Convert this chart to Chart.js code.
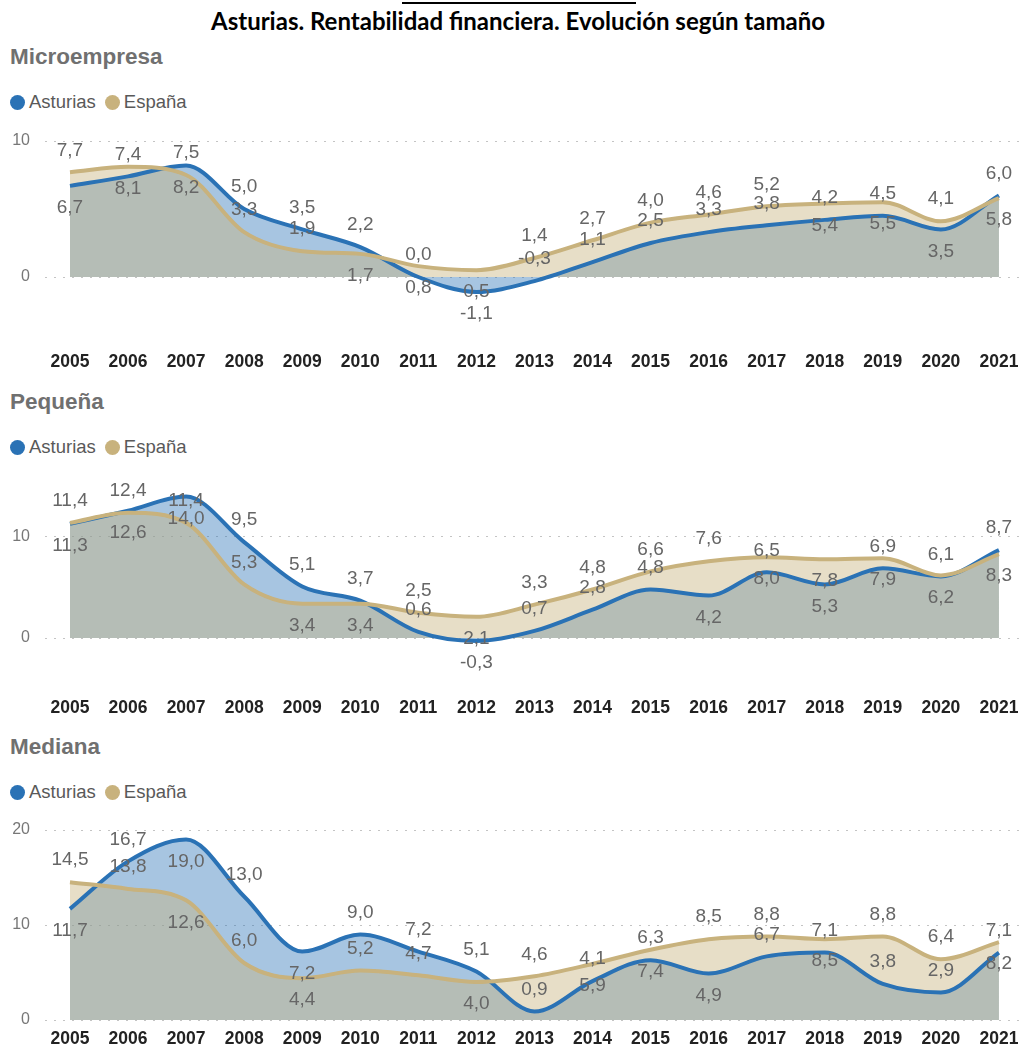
<!DOCTYPE html>
<html>
<head>
<meta charset="utf-8">
<script src="https://cdn.jsdelivr.net/npm/chart.js@4.4.1/dist/chart.umd.min.js"></script>
<style>
html,body{margin:0;padding:0;background:#fff;}
#page{position:relative;width:1026px;height:1048px;overflow:hidden;font-family:"Liberation Sans",Arial,sans-serif;}
.topline{position:absolute;left:402px;top:2px;width:234px;height:2px;background:#000;}
.main-title{position:absolute;left:5px;top:6px;width:1026px;height:30px;line-height:30px;text-align:center;font-family:Lato,"Open Sans",sans-serif;font-weight:700;font-size:24px;color:#000;white-space:nowrap;}
.ptitle{position:absolute;left:10px;height:30px;line-height:30px;font-weight:700;font-size:22.5px;color:#707070;white-space:nowrap;}
.legend{position:absolute;left:10px;height:20px;line-height:20px;font-size:18.5px;color:#595959;display:flex;align-items:center;white-space:nowrap;}
.legend .item{display:flex;align-items:center;margin-right:9px;}
.legend .dot{width:15px;height:15px;border-radius:50%;display:inline-block;margin-right:4px;}
canvas{position:absolute;left:0;}
</style>
</head>
<body>
<div id="page">
  <div class="topline"></div>
  <div class="main-title">Asturias. Rentabilidad financiera. Evolución según tamaño</div>

  <div class="ptitle" style="top:42px">Microempresa</div>
  <div class="legend" style="top:92px"><span class="item"><span class="dot" style="background:#2a72b5"></span>Asturias</span><span class="item"><span class="dot" style="background:#c8b27d"></span>España</span></div>
  <canvas id="c1" width="1026" height="266" style="top:109px"></canvas>

  <div class="ptitle" style="top:387px">Pequeña</div>
  <div class="legend" style="top:437px"><span class="item"><span class="dot" style="background:#2a72b5"></span>Asturias</span><span class="item"><span class="dot" style="background:#c8b27d"></span>España</span></div>
  <canvas id="c2" width="1026" height="266" style="top:454px"></canvas>

  <div class="ptitle" style="top:732px">Mediana</div>
  <div class="legend" style="top:782px"><span class="item"><span class="dot" style="background:#2a72b5"></span>Asturias</span><span class="item"><span class="dot" style="background:#c8b27d"></span>España</span></div>
  <canvas id="c3" width="1026" height="249" style="top:799px"></canvas>
</div>

<script>
// ---------- DATA ----------
const years = [2005, 2006, 2007, 2008, 2009, 2010, 2011, 2012, 2013, 2014, 2015, 2016, 2017, 2018, 2019, 2020, 2021];

const microAsturias = [6.7, 7.4, 8.2, 5.0, 3.5, 2.2, 0.0, -1.1, -0.3, 1.1, 2.5, 3.3, 3.8, 4.2, 4.5, 3.5, 6.0];
const microEspana   = [7.7, 8.1, 7.5, 3.3, 1.9, 1.7, 0.8, 0.5, 1.4, 2.7, 4.0, 4.6, 5.2, 5.4, 5.5, 4.1, 5.8];

const pequenaAsturias = [11.3, 12.6, 14.0, 9.5, 5.1, 3.7, 0.6, -0.3, 0.7, 2.8, 4.8, 4.2, 6.5, 5.3, 6.9, 6.1, 8.7];
const pequenaEspana   = [11.4, 12.4, 11.4, 5.3, 3.4, 3.4, 2.5, 2.1, 3.3, 4.8, 6.6, 7.6, 8.0, 7.8, 7.9, 6.2, 8.3];

const medianaAsturias = [11.7, 16.7, 19.0, 13.0, 7.2, 9.0, 7.2, 5.1, 0.9, 4.1, 6.3, 4.9, 6.7, 7.1, 3.8, 2.9, 7.1];
const medianaEspana   = [14.5, 13.8, 12.6, 6.0, 4.4, 5.2, 4.7, 4.0, 4.6, 5.9, 7.4, 8.5, 8.8, 8.5, 8.8, 6.4, 8.2];

const yTicksMicro   = [0, 10];
const yTicksPequena = [0, 10];
const yTicksMediana = [0, 10, 20];

const seriesNames = ['Asturias', 'España'];

// ---------- STYLE (label placement: t = above point, b = below point) ----------
const microAsturiasSide   = 'btbttttbtttttttbt';
const microEspanaSide     = 'tbtttbbbtttttbbtb';
const pequenaAsturiasSide = 'bbbttttbtttbtbttt';
const pequenaEspanaSide   = 'ttttbbtbttttbbbbb';
const medianaAsturiasSide = 'btbtbttttttbttttt';
const medianaEspanaSide   = 'ttbtbttbtbbttbttb';

const BLUE = '#2a72b5', BLUE_FILL = 'rgba(42,114,181,0.41)';
const TAN = '#c8b27d',  TAN_FILL  = 'rgba(200,178,125,0.43)';
const FONT = '"Liberation Sans", Arial, sans-serif';

const fmt = v => v.toFixed(1).replace('.', ',');

const valueLabels = {
  id: 'valueLabels',
  afterDatasetsDraw(chart) {
    const ctx = chart.ctx;
    ctx.save();
    ctx.font = '19px ' + FONT;
    ctx.fillStyle = '#666666';
    ctx.textAlign = 'center';
    ctx.textBaseline = 'middle';
    chart.data.datasets.forEach((ds, di) => {
      const meta = chart.getDatasetMeta(di);
      meta.data.forEach((pt, i) => {
        const side = ds.labelSide[i];
        const y = pt.y + (side === 't' ? -22 : 22);
        ctx.fillText(fmt(ds.data[i].y), pt.x, y);
      });
    });
    ctx.restore();
  }
};

// geometry per panel (page pixels): canvas top, chart-area top/bottom, pixel of value 0, pixels per unit
function makeChart(id, asturias, espana, sideA, sideE, yTicks, geo) {
  const ctx = document.getElementById(id);
  const padTop = geo.areaTop - geo.canvasTop;
  const xAxisH = geo.canvasTop + geo.height - geo.areaBottom;
  const yMax = (geo.zero - geo.areaTop) / geo.ppu;
  const yMin = -(geo.areaBottom - geo.zero) / geo.ppu;
  const pxPerYear = (1000 - 70) / (years[years.length - 1] - years[0]);
  const xMin = years[0] - (70 - 45) / pxPerYear;
  const xMax = years[years.length - 1] + (1022 - 1000) / pxPerYear;

  return new Chart(ctx, {
    type: 'line',
    data: {
      datasets: [
        {
          label: seriesNames[0],
          data: years.map((yr, i) => ({x: yr, y: asturias[i]})),
          borderColor: BLUE,
          backgroundColor: BLUE_FILL,
          borderWidth: 4,
          fill: 'origin',
          pointRadius: 0,
          cubicInterpolationMode: 'monotone',
          order: 2,
          labelSide: sideA
        },
        {
          label: seriesNames[1],
          data: years.map((yr, i) => ({x: yr, y: espana[i]})),
          borderColor: TAN,
          backgroundColor: TAN_FILL,
          borderWidth: 4,
          fill: 'origin',
          pointRadius: 0,
          cubicInterpolationMode: 'monotone',
          order: 1,
          labelSide: sideE
        }
      ]
    },
    options: {
      responsive: false,
      animation: false,
      events: [],
      layout: {padding: {top: padTop, right: 4, left: 0, bottom: 0}},
      plugins: {
        legend: {display: false},
        title: {display: false},
        tooltip: {enabled: false},
        filler: {drawTime: 'beforeDatasetsDraw'}
      },
      scales: {
        x: {
          type: 'linear',
          min: xMin,
          max: xMax,
          grid: {display: false, drawTicks: false},
          border: {display: false},
          afterBuildTicks: s => { s.ticks = years.map(v => ({value: v})); },
          afterFit: s => { s.height = xAxisH; },
          ticks: {
            autoSkip: false,
            maxRotation: 0,
            padding: 7.5,
            color: '#222222',
            font: {family: FONT, size: 17.5, weight: 'bold'},
            callback: v => String(v)
          }
        },
        y: {
          type: 'linear',
          min: yMin,
          max: yMax,
          grid: {color: '#c4c4c4', lineWidth: 1, drawTicks: false},
          border: {display: false, dash: [2, 7]},
          afterBuildTicks: s => { s.ticks = yTicks.map(v => ({value: v})); },
          afterFit: s => { s.width = 45; },
          ticks: {
            padding: 15,
            color: '#777777',
            font: {family: FONT, size: 16},
            callback: v => String(v)
          }
        }
      }
    },
    plugins: [valueLabels]
  });
}

makeChart('c1', microAsturias, microEspana, microAsturiasSide, microEspanaSide, yTicksMicro,
  {canvasTop: 109, height: 266, areaTop: 135, areaBottom: 344, zero: 277, ppu: 13.6});
makeChart('c2', pequenaAsturias, pequenaEspana, pequenaAsturiasSide, pequenaEspanaSide, yTicksPequena,
  {canvasTop: 454, height: 266, areaTop: 480, areaBottom: 690, zero: 638, ppu: 10.1});
makeChart('c3', medianaAsturias, medianaEspana, medianaAsturiasSide, medianaEspanaSide, yTicksMediana,
  {canvasTop: 799, height: 249, areaTop: 825, areaBottom: 1021, zero: 1020, ppu: 9.5});
</script>
</body>
</html>
